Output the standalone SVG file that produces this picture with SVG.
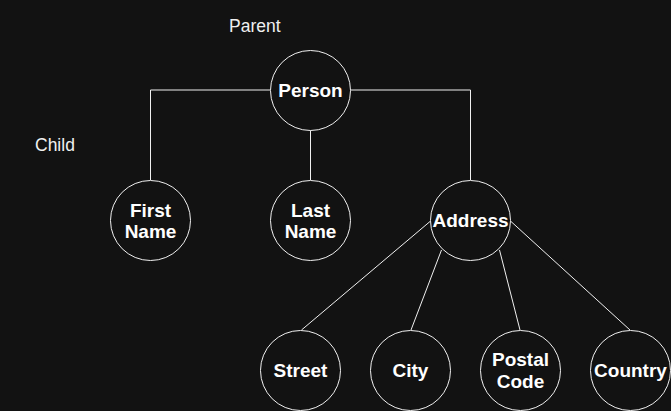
<svg xmlns="http://www.w3.org/2000/svg" width="671" height="411" viewBox="0 0 671 411">
<style>
.bg{fill:#121212}
.node circle{fill:#121212;stroke:#f0f0f0;stroke-width:1}
.node text{fill:#ffffff;font-family:"Liberation Sans",Arial,sans-serif;font-weight:bold;font-size:19px;text-anchor:middle}
.lbl{fill:#f0f0f0;font-family:"Liberation Sans",Arial,sans-serif;font-size:17.5px}
#connectors path{fill:none;stroke:#f0f0f0;stroke-width:1}
</style>
<rect class="bg" x="0" y="0" width="671" height="411"/>
<text class="lbl" x="229" y="31.5">Parent</text>
<text class="lbl" x="35" y="151">Child</text>
<g id="connectors">
<path d="M270 90 H150.5 V180"/>
<path d="M310.5 130 V180"/>
<path d="M350 90 H470.5 V180"/>
<path d="M430 221.5 L301.5 330"/>
<path d="M441.5 250 L411 330"/>
<path d="M499.5 250 L520 330"/>
<path d="M511 221.5 L630 330"/>
</g>
<g id="person" class="node"><circle cx="310.5" cy="90.5" r="40"/><text x="310.5" y="97.3">Person</text></g>
<g id="firstname" class="node"><circle cx="150.5" cy="220.5" r="40"/><text x="150.5" y="216.5">First</text><text x="150.5" y="238.4">Name</text></g>
<g id="lastname" class="node"><circle cx="310.5" cy="220.5" r="40"/><text x="310.5" y="216.5">Last</text><text x="310.5" y="238.4">Name</text></g>
<g id="address" class="node"><circle cx="470.5" cy="220.5" r="40"/><text x="470.5" y="227">Address</text></g>
<g id="street" class="node"><circle cx="300.5" cy="370.5" r="40"/><text x="300.5" y="377">Street</text></g>
<g id="city" class="node"><circle cx="410.5" cy="370.5" r="40"/><text x="410.5" y="377">City</text></g>
<g id="postalcode" class="node"><circle cx="520.5" cy="370.5" r="40"/><text x="520.5" y="366">Postal</text><text x="520.5" y="388.3">Code</text></g>
<g id="country" class="node"><circle cx="630.5" cy="370.5" r="40"/><text x="630.5" y="377">Country</text></g>
</svg>
